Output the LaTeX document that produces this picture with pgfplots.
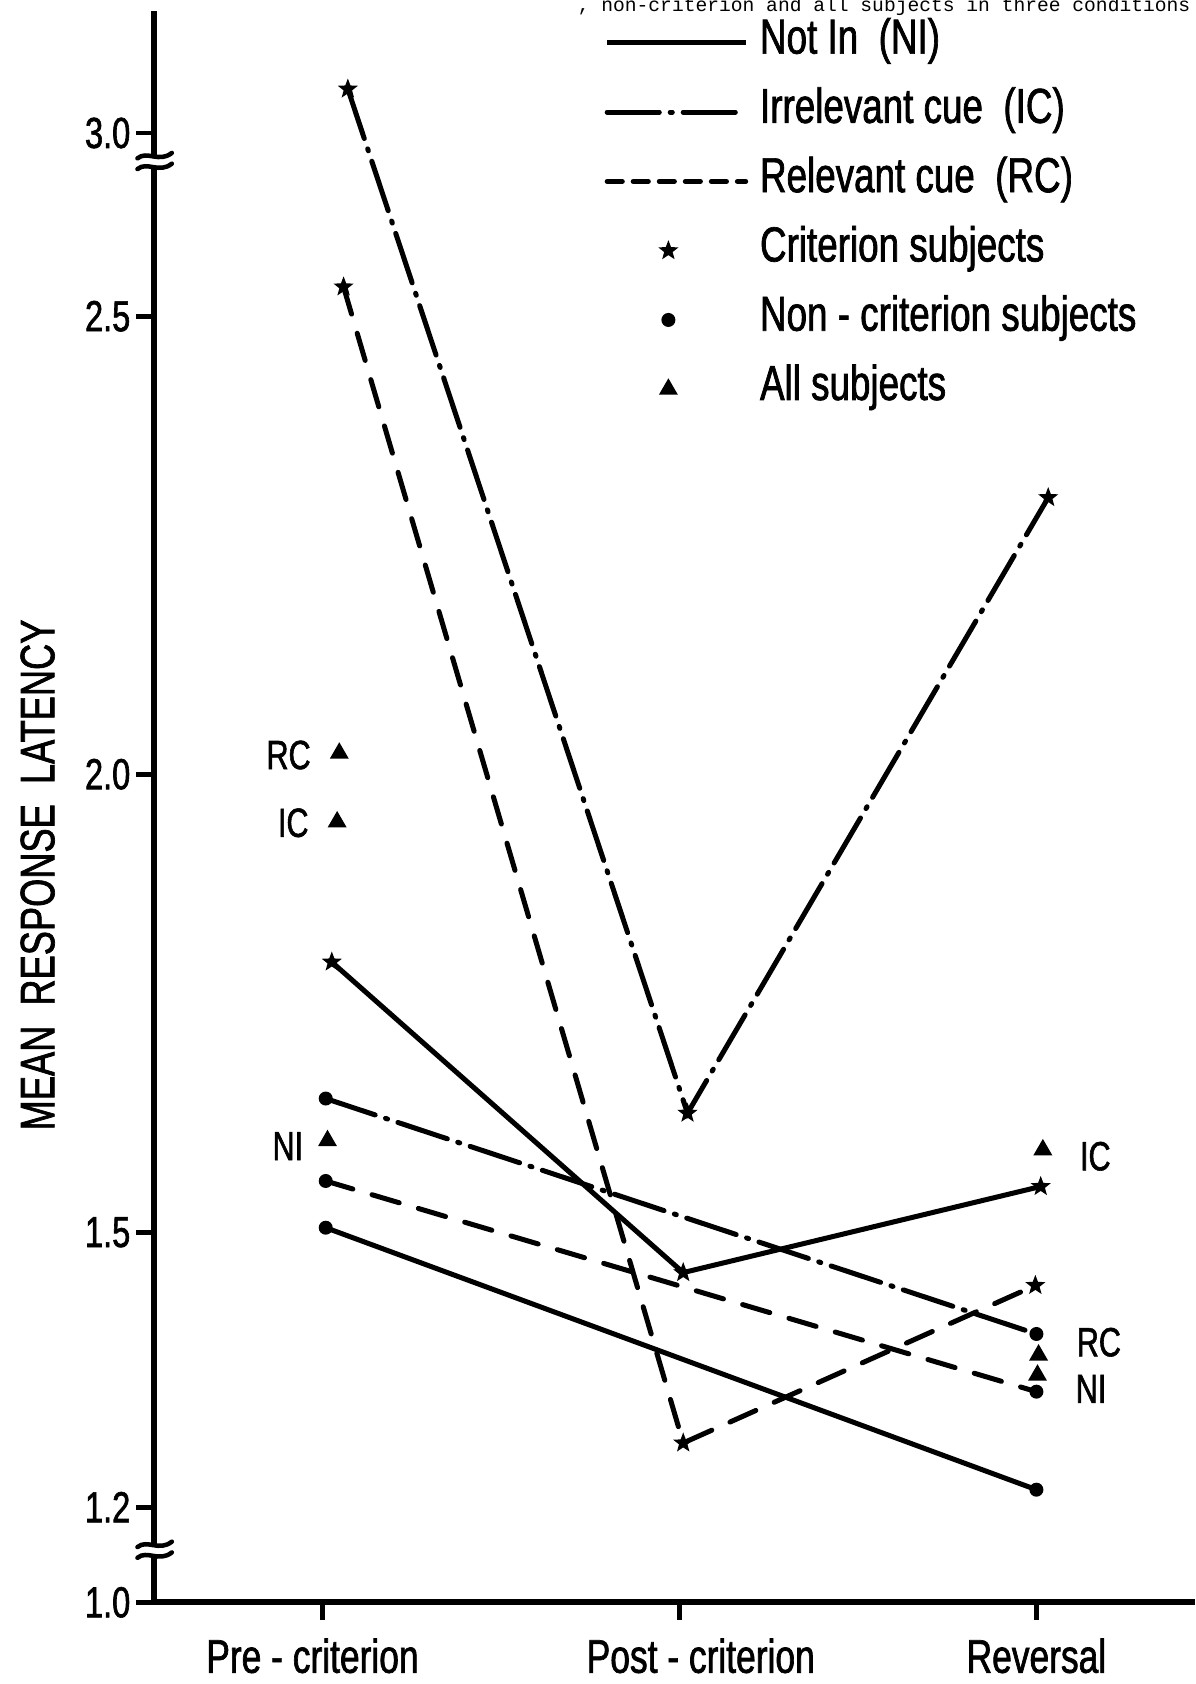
\documentclass[border=0pt]{standalone}
\usepackage{fontspec}
\setmainfont{Liberation Sans}[FakeStretch=0.75, FakeBold=1.4]
\newfontfamily\twfont{Liberation Mono}
\usepackage{pgfplots}
\pgfplotsset{compat=1.18}

\pgfdeclareplotmark{fstar}{%
 \pgfpathmoveto{\pgfpointpolar{90}{\pgfplotmarksize}}%
 \pgfpathlineto{\pgfpointpolar{126}{0.42*\pgfplotmarksize}}%
 \pgfpathlineto{\pgfpointpolar{162}{\pgfplotmarksize}}%
 \pgfpathlineto{\pgfpointpolar{198}{0.42*\pgfplotmarksize}}%
 \pgfpathlineto{\pgfpointpolar{234}{\pgfplotmarksize}}%
 \pgfpathlineto{\pgfpointpolar{270}{0.42*\pgfplotmarksize}}%
 \pgfpathlineto{\pgfpointpolar{306}{\pgfplotmarksize}}%
 \pgfpathlineto{\pgfpointpolar{342}{0.42*\pgfplotmarksize}}%
 \pgfpathlineto{\pgfpointpolar{18}{\pgfplotmarksize}}%
 \pgfpathlineto{\pgfpointpolar{54}{0.42*\pgfplotmarksize}}%
 \pgfpathclose
 \pgfusepathqfill}

\tikzset{
  niline/.style={line width=1.33pt, solid},
  icline/.style={line width=1.33pt, line cap=round, dash pattern=on 13.8pt off 2.9pt on 0.55pt off 2.9pt},
  rcline/.style={line width=1.33pt, line cap=round, dash pattern=on 7.5pt off 5.3pt},
  rclegline/.style={line width=1.33pt, line cap=round, dash pattern=on 4pt off 2.9pt},
}
\pgfplotsset{
  markleg/.style={legend image code/.code={\path (0cm,0cm) (1.29cm,0cm); \draw[##1, only marks] plot coordinates {(0.57cm,0cm)};}},
  nileg/.style={legend image code/.code={\draw[niline] (0cm,0cm) -- (1.29cm,0cm);}},
  icleg/.style={legend image code/.code={\draw[icline] (0cm,0cm) -- (1.29cm,0cm);}},
  rcleg/.style={legend image code/.code={\draw[rclegline] (0cm,0cm) -- (1.29cm,0cm);}},
  dotmark/.style={mark=*, mark size=1.65pt, mark options={solid, line width=0.4pt}},
  starmark/.style={mark=fstar, mark size=2.8pt, mark options={solid}},
}

\begin{document}
\begin{tikzpicture}
\begin{axis}[
  at={(1.43cm,0.76cm)}, anchor=south west,
  scale only axis, width=9.70cm, height=14.82cm,
  xmin=-0.472, xmax=2.445, ymin=1.0, ymax=3.1335,
  y coord trafo/.code={\pgfmathparse{#1>2.8 ? #1-0.3 : (#1<1.15 ? #1+0.096 : #1)}},
  axis x line*=bottom, axis y line*=left,
  axis line style={line width=1.6pt, -},
  clip=false,
  xtick={0,1,2},
  xticklabels={{Pre - criterion\hspace*{0.18cm}},{\hspace*{0.40cm}Post - criterion},{Reversal}},
  ytick={1.0,1.2,1.5,2.0,2.5,3.0},
  yticklabels={1.0,1.2,1.5,2.0,2.5,3.0},
  tick align=outside, major tick length=0.16cm,
  tick style={line width=1.3pt, black},
  yticklabel style={font=\fontsize{11.5}{13}\selectfont, inner sep=0pt, xshift=-0.05cm},
  xticklabel style={font=\fontsize{12.5}{14}\selectfont, inner sep=0pt, yshift=-0.17cm},
  ylabel={MEAN\ \ RESPONSE\ \ LATENCY},
  ylabel style={at={(rel axis cs:-0.1113,0.457)}, anchor=center, font=\fontsize{12.8}{14}\selectfont},
  legend cell align=left,
  legend style={at={(rel axis cs:0.433,0.9933)}, anchor=north west, draw=none, fill=none,
    inner sep=0pt, outer sep=0pt, row sep=0.245cm, font=\fontsize{13}{15}\selectfont,
    nodes={inner xsep=0.11cm, inner ysep=0pt, text height=0.3cm, text depth=0.1cm}},
]
% legend entries
\addlegendimage{nileg}
\addlegendentry{Not In\ \ (NI)}
\addlegendimage{icleg}
\addlegendentry{Irrelevant cue\ \ (IC)}
\addlegendimage{rcleg}
\addlegendentry{Relevant cue\ \ (RC)}
\addlegendimage{starmark, markleg}
\addlegendentry{Criterion subjects}
\addlegendimage{dotmark, markleg}
\addlegendentry{Non - criterion subjects}
\addlegendimage{mark=triangle*, mark size=2.5pt, markleg}
\addlegendentry{All subjects}

% Not In (NI)
\addplot[niline, starmark] coordinates {(0.027,1.795) (1.011,1.456) (2.012,1.550)};
\addplot[niline, dotmark] coordinates {(0.01,1.505) (2.0,1.219)};
% Irrelevant cue (IC)
\addplot[icline, starmark] coordinates {(0.072,3.048) (1.023,1.630) (2.033,2.302)};
\addplot[icline, dotmark] coordinates {(0.01,1.646) (2.0,1.389)};
% Relevant cue (RC)
\addplot[rcline, starmark] coordinates {(0.06,2.532) (1.011,1.270) (1.997,1.442)};
\addplot[rcline, dotmark] coordinates {(0.01,1.556) (2.0,1.326)};
% All subjects
\addplot[only marks, mark=triangle*, mark size=2.5pt] coordinates {(0.048,2.023) (0.042,1.948) (0.015,1.600) (2.018,1.590) (2.006,1.366) (2.003,1.344)};

\node[anchor=east, inner sep=0pt, font=\fontsize{10.8}{12}\selectfont] at (axis cs:-0.030,2.021) {RC};
\node[anchor=east, inner sep=0pt, font=\fontsize{10.8}{12}\selectfont] at (axis cs:-0.036,1.947) {IC};
\node[anchor=east, inner sep=0pt, font=\fontsize{10.8}{12}\selectfont] at (axis cs:-0.051,1.594) {NI};
\node[anchor=west, inner sep=0pt, font=\fontsize{10.8}{12}\selectfont] at (axis cs:2.120,1.583) {IC};
\node[anchor=west, inner sep=0pt, font=\fontsize{10.8}{12}\selectfont] at (axis cs:2.111,1.380) {RC};
\node[anchor=west, inner sep=0pt, font=\fontsize{10.8}{12}\selectfont] at (axis cs:2.108,1.329) {NI};

\coordinate (brkT) at (rel axis cs:0,0.9049);
\coordinate (brkB) at (rel axis cs:0,0.0324);
\end{axis}

\foreach \b in {brkT,brkB}{
  \begin{scope}[shift={(\b)}]
    \fill[white] (-0.04,-0.045) rectangle (0.04,0.045);
    \draw[line width=1.2pt, line cap=round] (-0.15,0.035) .. controls (-0.06,0.11) and (0.05,-0.01) .. (0.17,0.085);
    \draw[line width=1.2pt, line cap=round] (-0.15,-0.065) .. controls (-0.06,0.01) and (0.05,-0.11) .. (0.17,-0.015);
  \end{scope}
}

\node[anchor=base east, inner sep=0pt, font=\twfont\fontsize{5.2}{6}\selectfont] at (11.09,15.57) {, non-criterion and all subjects in three conditions};

\pgfresetboundingbox
\useasboundingbox (0,0) rectangle (11.13,15.68);
\end{tikzpicture}
\end{document}
